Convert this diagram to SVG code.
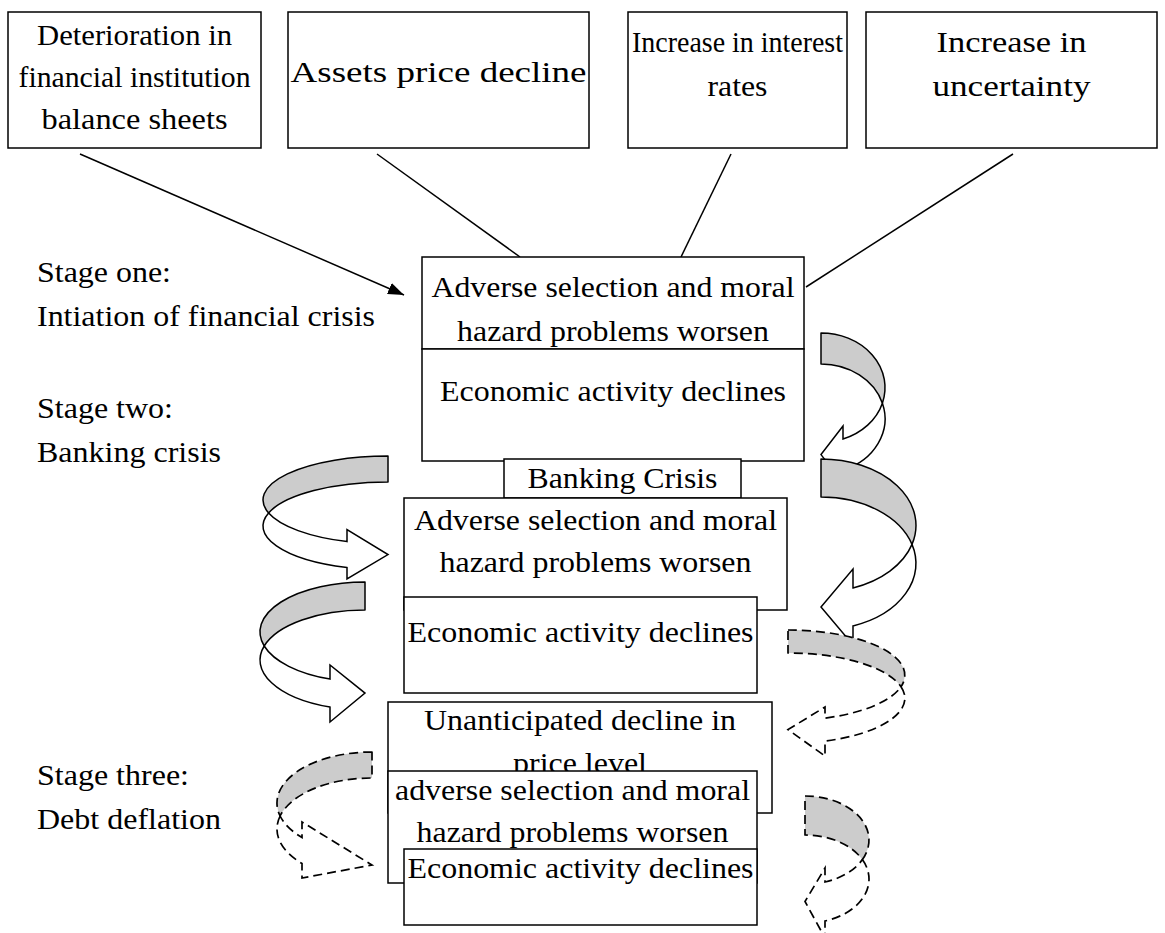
<svg xmlns="http://www.w3.org/2000/svg" width="1165" height="933" viewBox="0 0 1165 933">
<style>
.box{fill:#fff;stroke:#000;stroke-width:1.5}
.t{font-family:"Liberation Serif","Times New Roman",serif;font-size:29px;fill:#000}
.c{text-anchor:middle}
.ln{stroke:#000;stroke-width:1.5;fill:none}
.back{fill:#cccccc;stroke:#000;stroke-width:1.5;stroke-linejoin:round}
.front{fill:#fff;stroke:#000;stroke-width:1.5;stroke-linejoin:miter}
.dash{stroke-dasharray:9 5;stroke-width:1.7}
</style>
<defs>
<marker id="ah" markerUnits="userSpaceOnUse" markerWidth="16" markerHeight="12" viewBox="0 0 16 12" refX="16" refY="6" orient="auto">
<path d="M0,0 L16,6 L0,12 Z" fill="#000"/>
</marker>
</defs>
<rect width="1165" height="933" fill="#fff"/>

<g id="stage-labels">
<text class="t" x="37" y="282" textLength="134" lengthAdjust="spacingAndGlyphs">Stage one:</text>
<text class="t" x="37" y="326" textLength="338" lengthAdjust="spacingAndGlyphs">Intiation of financial crisis</text>
<text class="t" x="37" y="418" textLength="136" lengthAdjust="spacingAndGlyphs">Stage two:</text>
<text class="t" x="37" y="462" textLength="184" lengthAdjust="spacingAndGlyphs">Banking crisis</text>
<text class="t" x="37" y="785" textLength="152" lengthAdjust="spacingAndGlyphs">Stage three:</text>
<text class="t" x="37" y="829" textLength="184" lengthAdjust="spacingAndGlyphs">Debt deflation</text>
</g>

<g id="box-deterioration">
<rect class="box" x="8" y="12" width="253" height="136"/>
<text class="t c" x="134.5" y="45" textLength="195" lengthAdjust="spacingAndGlyphs">Deterioration in</text>
<text class="t c" x="134.5" y="87" textLength="232" lengthAdjust="spacingAndGlyphs">financial institution</text>
<text class="t c" x="134.5" y="129" textLength="186" lengthAdjust="spacingAndGlyphs">balance sheets</text>
</g>
<g id="box-assets">
<rect class="box" x="288" y="12" width="301" height="136"/>
<text class="t c" x="438.5" y="82" textLength="296" lengthAdjust="spacingAndGlyphs">Assets price decline</text>
</g>
<g id="box-interest">
<rect class="box" x="628" y="12" width="219" height="136"/>
<text class="t c" x="737.5" y="52" textLength="211" lengthAdjust="spacingAndGlyphs">Increase in interest</text>
<text class="t c" x="737.5" y="96" textLength="60" lengthAdjust="spacingAndGlyphs">rates</text>
</g>
<g id="box-uncertainty">
<rect class="box" x="866" y="12" width="291" height="136"/>
<text class="t c" x="1011.5" y="52" textLength="150" lengthAdjust="spacingAndGlyphs">Increase in</text>
<text class="t c" x="1011.5" y="96" textLength="158" lengthAdjust="spacingAndGlyphs">uncertainty</text>
</g>

<g id="connectors">
<line class="ln" x1="80" y1="154" x2="404" y2="295" marker-end="url(#ah)"/>
<line class="ln" x1="377" y1="154" x2="520" y2="257"/>
<line class="ln" x1="731" y1="154" x2="681" y2="257"/>
<line class="ln" x1="1013" y1="154" x2="806" y2="287"/>
</g>

<g id="box-adverse1">
<rect class="box" x="422" y="257" width="382" height="92"/>
<text class="t c" x="613" y="297" textLength="363" lengthAdjust="spacingAndGlyphs">Adverse selection and moral</text>
<text class="t c" x="613" y="341" textLength="312" lengthAdjust="spacingAndGlyphs">hazard problems worsen</text>
</g>
<g id="box-economic1">
<rect class="box" x="422" y="349" width="382" height="112"/>
<text class="t c" x="613" y="401" textLength="346" lengthAdjust="spacingAndGlyphs">Economic activity declines</text>
</g>
<g id="box-banking">
<rect class="box" x="504" y="459" width="237" height="39"/>
<text class="t c" x="622.5" y="488" textLength="190" lengthAdjust="spacingAndGlyphs">Banking Crisis</text>
</g>
<g id="box-adverse2">
<rect class="box" x="404" y="498" width="383" height="112"/>
<text class="t c" x="595.5" y="530" textLength="363" lengthAdjust="spacingAndGlyphs">Adverse selection and moral</text>
<text class="t c" x="595.5" y="572" textLength="312" lengthAdjust="spacingAndGlyphs">hazard problems worsen</text>
</g>
<g id="box-economic2">
<rect class="box" x="404" y="597" width="353" height="96"/>
<text class="t c" x="580.5" y="642" textLength="346" lengthAdjust="spacingAndGlyphs">Economic activity declines</text>
</g>
<g id="box-unanticipated">
<rect class="box" x="388" y="702" width="384" height="111"/>
<text class="t c" x="580" y="730" textLength="312" lengthAdjust="spacingAndGlyphs">Unanticipated decline in</text>
<text class="t c" x="580" y="773" textLength="134" lengthAdjust="spacingAndGlyphs">price level</text>
</g>
<g id="box-adverse3">
<rect class="box" x="388" y="771" width="369" height="112"/>
<text class="t c" x="572.5" y="800" textLength="355" lengthAdjust="spacingAndGlyphs">adverse selection and moral</text>
<text class="t c" x="572.5" y="842" textLength="312" lengthAdjust="spacingAndGlyphs">hazard problems worsen</text>
</g>
<g id="box-economic3">
<rect class="box" x="404" y="849" width="353" height="76"/>
<text class="t c" x="580.5" y="878" textLength="346" lengthAdjust="spacingAndGlyphs">Economic activity declines</text>
</g>

<g id="curved-arrows">
<g id="arrow-a">
<path class="back" d="M821,333 A64,54.7 0 0 1 882.4,403.2 A64,54.7 0 0 0 821,364 Z"/>
<path class="front" d="M882.4,403.2 A64,54.7 0 0 1 843,470 L843,483 L821,454.6 L843,426 L843,439 A64,54.7 0 0 0 882.4,403.2 Z"/>
</g>
<g id="arrow-b">
<path class="back" d="M821,459 A95,66.4 0 0 1 912,544.4 A95,66.4 0 0 0 821,497 Z"/>
<path class="front" d="M912,544.4 A95,66.4 0 0 1 853,625.9 L853,645 L821,607 L853,569 L853,587.9 A95,66.4 0 0 0 912,544.4 Z"/>
</g>
<g id="arrow-c">
<path class="back" d="M388,456 A125,44 0 0 0 268.6,513 A125,44 0 0 1 388,482 Z"/>
<path class="front" d="M268.6,513 A125,44 0 0 0 347,567.6 L347,579 L388,554.6 L347,529.5 L347,541.6 A125,44 0 0 1 268.6,513 Z"/>
</g>
<g id="arrow-d">
<path class="back" d="M365,582 A105,50 0 0 0 264.2,646 A105,50 0 0 1 365,610 Z"/>
<path class="front" d="M264.2,646 A105,50 0 0 0 330,707.1 L330,722 L365,693.1 L330,665 L330,679.1 A105,50 0 0 1 264.2,646 Z"/>
</g>
<g id="arrow-e">
<path class="back dash" d="M788,630 A117,45.2 0 0 1 901,686.7 A117,45.2 0 0 0 788,653 Z"/>
<path class="front dash" d="M901,686.7 A117,45.2 0 0 1 825,741.1 L825,756 L788,729.6 L825,707 L825,718.1 A117,45.2 0 0 0 901,686.7 Z"/>
</g>
<g id="arrow-f">
<path class="back dash" d="M372,752 A95,51 0 0 0 280.1,816 A95,51 0 0 1 372,778 Z"/>
<path class="front dash" d="M280.1,816 A95,51 0 0 0 302,863.5 L302,878 L372,865 L302,822 L302,837.5 A95,51 0 0 1 280.1,816 Z"/>
</g>
<g id="arrow-g">
<path class="back dash" d="M805,796 A64,44.1 0 0 1 862.4,859.6 A64,44.1 0 0 0 805,835 Z"/>
<path class="front dash" d="M862.4,859.6 A64,44.1 0 0 1 825,921 L825,938 L805,901.5 L825,868 L825,882 A64,44.1 0 0 0 862.4,859.6 Z"/>
</g>
</g>
</svg>
